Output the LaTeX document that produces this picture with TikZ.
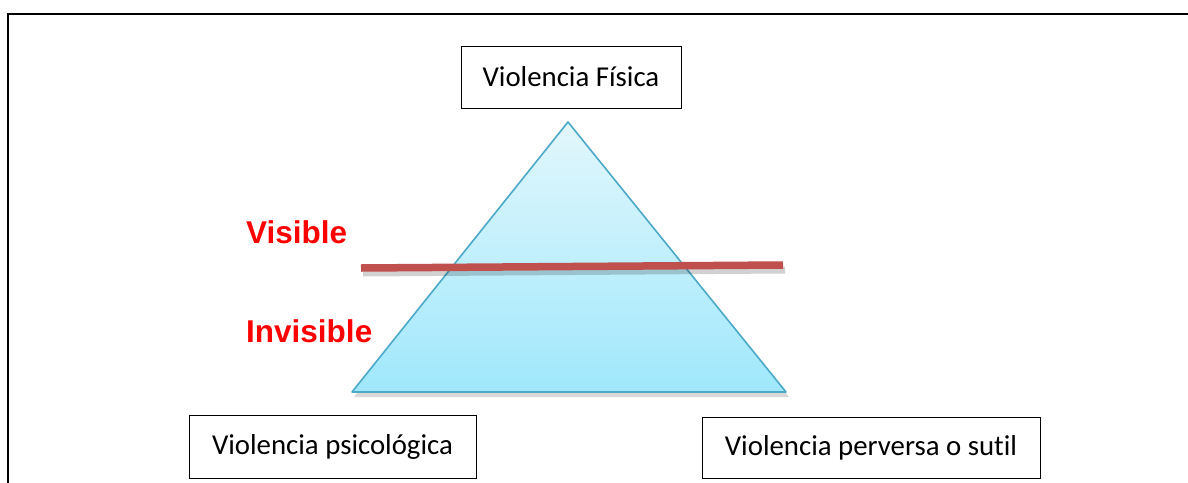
\documentclass[tikz,border=0pt]{standalone}
\usepackage{fontspec}
\setmainfont[Ligatures=NoCommon]{Carlito}
\newfontfamily\arialfont{Liberation Sans}
\definecolor{triedge}{RGB}{75,168,198}
\definecolor{tritop}{RGB}{226,247,252}
\definecolor{tribot}{RGB}{160,232,252}
\definecolor{redbar}{RGB}{192,80,77}
\definecolor{lblred}{RGB}{255,0,0}
\tikzset{
  labelbox/.style={draw=black, line width=1pt, fill=white, inner sep=0pt, font=\fontsize{28.8}{33}\selectfont, text=black},
  redlabel/.style={font=\arialfont\bfseries\fontsize{31.5}{36}\selectfont, text=lblred, inner sep=0pt, anchor=west}
}
\begin{document}
\begin{tikzpicture}[x=1pt,y=-1pt]
\useasboundingbox (0,0) rectangle (1188,482);
% frame
\draw[line width=2.2pt] (8,483) -- (8,14) -- (1188,14);
% triangle shadow
\fill[black, opacity=0.15] (570,126) -- (789,397) -- (354,397) -- cycle;
% triangle
\shade[top color=tritop, bottom color=tribot] (568,122) -- (786,392) -- (352,392) -- cycle;
\draw[triedge, line width=1.6pt, line join=round] (568,122) -- (786,392) -- (352,392) -- cycle;
% red bar
\draw[black, opacity=0.18, line width=7pt] (363,273) -- (785,270);
\draw[redbar, line width=7.5pt] (361,268) -- (783,265);
% labels
\node[redlabel] (vis) at (246,232) {Visible};
\node[redlabel] (invis) at (246,331) {Invisible};
% boxes
\node[labelbox, minimum width=220pt, minimum height=62pt] (fis) at (571,77) {Violencia Física};
\node[labelbox, minimum width=287pt, minimum height=63pt] (psi) at (332.5,446.5) {Violencia psicológica};
\node[labelbox, minimum width=338pt, minimum height=61pt] (per) at (871,447.5) {Violencia perversa o sutil};
\end{tikzpicture}
\end{document}
